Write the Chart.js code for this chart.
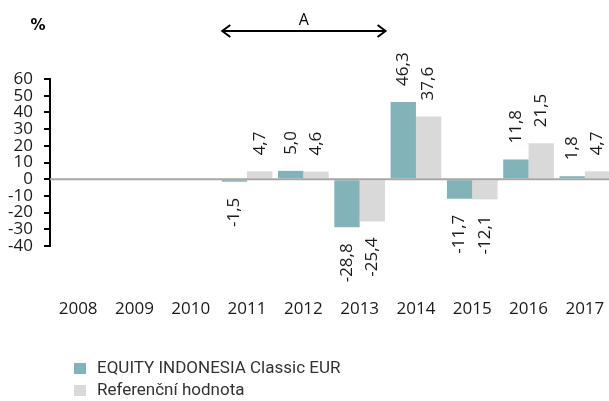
<!DOCTYPE html>
<html lang="cs">

<head>
  <meta charset="UTF-8">
  <title>EQUITY INDONESIA Classic EUR</title>
  <style>
    html, body { margin: 0; padding: 0; background: #fff; overflow: hidden; }
    canvas { display: block; }
  </style>
</head>

<body>
  <script src="https://cdn.jsdelivr.net/npm/chart.js"></script>

  <canvas id="barChart" width="614" height="401"></canvas>

  <script>
    // datos
    const roky = ['2008', '2009', '2010', '2011', '2012', '2013', '2014', '2015', '2016', '2017'];
    const fond = [null, null, null, -1.5, 5.0, -28.8, 46.3, -11.7, 11.8, 1.8];
    const referencni = [null, null, null, 4.7, 4.6, -25.4, 37.6, -12.1, 21.5, 4.7];
    const yTicks = [60, 50, 40, 30, 20, 10, 0, -10, -20, -30, -40];
    const nazvy = ['EQUITY INDONESIA Classic EUR', 'Referenční hodnota'];
    const barvy = ['#82b3b9', '#d9d9d9'];
    // rango marcado con la flecha "A"
    const rozsahA = ['2011', '2013'];

    const numFont = '17px "Open Sans"';

    // etiquetas rotadas, linea del cero, flecha y leyenda
    const extras = {
      id: 'extras',
      afterDatasetsDraw(chart) {
        const c = chart.ctx;
        const area = chart.chartArea;
        const y = chart.scales.y;

        // linea del cero
        c.save();
        c.strokeStyle = '#a6a6a6';
        c.lineWidth = 2;
        c.beginPath();
        c.moveTo(area.left, y.getPixelForValue(0));
        c.lineTo(area.right, y.getPixelForValue(0));
        c.stroke();
        c.restore();

        // valores encima / debajo de las barras
        c.save();
        c.font = numFont;
        c.fillStyle = '#1a1a1a';
        c.textBaseline = 'middle';
        chart.data.datasets.forEach((ds, di) => {
          chart.getDatasetMeta(di).data.forEach((bar, i) => {
            const v = ds.data[i];
            if (v === null) return;
            const txt = v.toFixed(1).replace('.', ',');
            c.save();
            if (v >= 0) {
              c.translate(bar.x, bar.y - 16);
              c.textAlign = 'left';
            } else {
              c.translate(bar.x, bar.y + 16);
              c.textAlign = 'right';
            }
            c.rotate(-Math.PI / 2);
            c.fillText(txt, 0, 0);
            c.restore();
          });
        });
        c.restore();
      },
      afterDraw(chart) {
        const c = chart.ctx;
        const x = chart.scales.x;
        const paso = x.getPixelForValue(1) - x.getPixelForValue(0);

        // simbolo %
        c.save();
        c.font = 'bold 15px "DejaVu Sans"';
        c.fillStyle = '#000';
        c.textAlign = 'center';
        c.textBaseline = 'middle';
        c.fillText('%', 38, 26);
        c.restore();

        // flecha doble con "A"
        const x1 = x.getPixelForValue(roky.indexOf(rozsahA[0])) - paso * 0.44;
        const x2 = x.getPixelForValue(roky.indexOf(rozsahA[1])) + paso * 0.46;
        const ya = 31;
        c.save();
        c.strokeStyle = '#000';
        c.lineWidth = 2;
        c.beginPath();
        c.moveTo(x1, ya);
        c.lineTo(x2, ya);
        c.moveTo(x1 + 8, ya - 6);
        c.lineTo(x1, ya);
        c.lineTo(x1 + 8, ya + 6);
        c.moveTo(x2 - 8, ya - 6);
        c.lineTo(x2, ya);
        c.lineTo(x2 - 8, ya + 6);
        c.stroke();
        c.font = '16px "Open Sans"';
        c.fillStyle = '#000';
        c.textAlign = 'center';
        c.textBaseline = 'middle';
        c.fillText('A', (x1 + x2) / 2, 20);
        c.restore();

        // leyenda
        c.save();
        c.font = '17px Roboto';
        c.textBaseline = 'middle';
        c.textAlign = 'left';
        nazvy.forEach((n, i) => {
          const yy = 369 + i * 22;
          c.fillStyle = barvy[i];
          c.fillRect(74, yy - 6, 12, 11);
          c.fillStyle = '#333';
          c.fillText(n, 97, yy);
        });
        c.restore();
      }
    };

    const ctx = document.getElementById('barChart').getContext('2d');
    const barChart = new Chart(ctx, {
      type: 'bar',
      data: {
        labels: roky,
        datasets: [{
          label: nazvy[0],
          data: fond,
          backgroundColor: barvy[0]
        }, {
          label: nazvy[1],
          data: referencni,
          backgroundColor: barvy[1]
        }]
      },
      options: {
        responsive: false,
        animation: false,
        categoryPercentage: 0.9,
        barPercentage: 1.0,
        layout: {
          padding: { top: 79, left: 0, right: 1, bottom: 0 }
        },
        plugins: {
          legend: { display: false },
          tooltip: { enabled: false }
        },
        scales: {
          x: {
            grid: {
              display: true,
              drawOnChartArea: false,
              drawTicks: true,
              tickLength: 53,
              tickColor: 'transparent'
            },
            border: { display: false },
            ticks: {
              padding: 0,
              color: '#1a1a1a',
              font: { family: 'Open Sans', size: 17 },
              maxRotation: 0,
              autoSkip: false
            },
            afterFit: (scale) => {
              scale.height = 155;
              scale.paddingLeft = 0;
              scale.paddingRight = 0;
            }
          },
          y: {
            min: -40,
            max: 60,
            grid: {
              drawOnChartArea: false,
              tickLength: 6,
              tickColor: '#000',
              lineWidth: 2
            },
            border: { display: true, color: '#000', width: 2 },
            ticks: {
              padding: 11,
              color: '#1a1a1a',
              autoSkip: false,
              font: { family: 'Open Sans', size: 17 }
            },
            afterBuildTicks: (scale) => { scale.ticks = yTicks.map(v => ({ value: v })); },
            afterFit: (scale) => { scale.width = 50; }
          }
        }
      },
      plugins: [extras]
    });
  </script>

</body>

</html>
